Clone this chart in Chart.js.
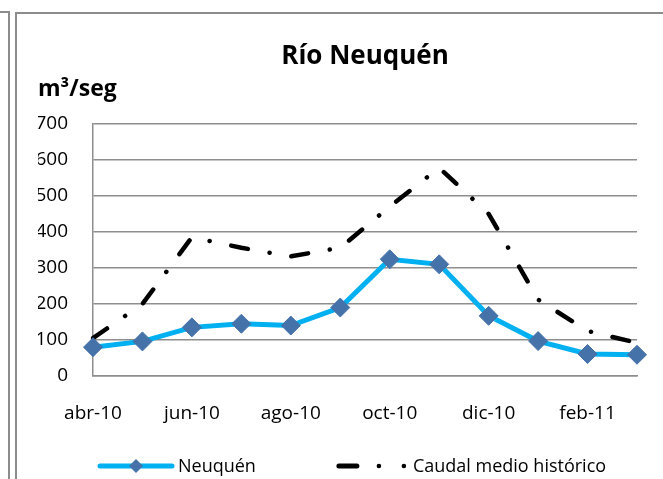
<!DOCTYPE html>
<html>
<head>
<meta charset="utf-8">
<script src="https://cdn.jsdelivr.net/npm/chart.js@4.4.1/dist/chart.umd.min.js"></script>
<style>
  html, body { margin: 0; padding: 0; background: #fff; overflow: hidden; }
  .side { position: absolute; left: 0; top: 11px; width: 8px; height: 480px; border-top: 2px solid #8c8c8c; border-right: 2px solid #8c8c8c; }
  .frame { position: absolute; left: 15px; top: 12px; width: 660px; height: 480px; border-left: 2px solid #8c8c8c; border-top: 2px solid #8c8c8c; }
  #wrap { position: absolute; left: 17px; top: 14px; width: 646px; height: 465px; }
</style>
</head>
<body>
<div class="side"></div>
<div class="frame"></div>
<div id="wrap"><canvas id="chart"></canvas></div>
<script>
// ===== DATA =====
const months = ['abr-10', 'may-10', 'jun-10', 'jul-10', 'ago-10', 'sep-10',
                'oct-10', 'nov-10', 'dic-10', 'ene-11', 'feb-11', 'mar-11'];
const neuquen = [80, 96, 135, 145, 140, 190, 324, 310, 167, 97, 61, 59];
const caudalHist = [105, 200, 385, 356, 332, 356, 470, 578, 450, 212, 125, 92];
const yTicks = [0, 100, 200, 300, 400, 500, 600, 700];

const FONT = "'Open Sans', sans-serif";
const GRID = '#8e8e8e';

// legend drawn by hand: line + marker sample, then text
const legendPlugin = {
  id: 'xlLegend',
  afterDraw(chart) {
    const ctx = chart.ctx;
    const y = 452;
    let x = chart.chartArea.left + 7;
    ctx.save();
    ctx.font = '18px ' + FONT;
    ctx.textBaseline = 'middle';
    // Neuquén
    ctx.strokeStyle = '#00b0f0'; ctx.lineWidth = 5; ctx.lineCap = 'round';
    ctx.beginPath(); ctx.moveTo(x, y); ctx.lineTo(x + 72, y); ctx.stroke();
    ctx.fillStyle = '#4672aa';
    ctx.beginPath();
    ctx.moveTo(x + 36 - 7, y); ctx.lineTo(x + 36, y - 7); ctx.lineTo(x + 36 + 7, y); ctx.lineTo(x + 36, y + 7);
    ctx.closePath(); ctx.fill();
    ctx.fillStyle = '#000';
    ctx.fillText(chart.data.datasets[0].label, x + 78, y + 1);
    x += 78 + ctx.measureText(chart.data.datasets[0].label).width + 81;
    // Caudal medio histórico
    ctx.strokeStyle = '#000'; ctx.lineWidth = 5;
    ctx.beginPath(); ctx.moveTo(x + 2, y); ctx.lineTo(x + 20, y); ctx.stroke();
    ctx.beginPath(); ctx.arc(x + 42, y, 2.3, 0, Math.PI * 2); ctx.fill();
    ctx.beginPath(); ctx.arc(x + 67, y, 2.3, 0, Math.PI * 2); ctx.fill();
    ctx.fillText(chart.data.datasets[1].label, x + 76, y + 1);
    ctx.restore();
  }
};

new Chart(document.getElementById('chart'), {
  type: 'line',
  data: {
    labels: months,
    datasets: [
      {
        label: 'Neuquén', data: neuquen,
        borderColor: '#00b0f0', borderWidth: 5, tension: 0,
        pointStyle: 'rectRot', pointRadius: 9.5, pointBackgroundColor: '#4672aa',
        pointBorderColor: '#4672aa', pointBorderWidth: 1, order: 1
      },
      {
        label: 'Caudal medio histórico', data: caudalHist,
        borderColor: '#000', borderWidth: 4.5, tension: 0,
        borderDash: [17, 22, 0.1, 22], borderCapStyle: 'round',
        pointRadius: 0, order: 2
      }
    ]
  },
  options: {
    responsive: true, maintainAspectRatio: false, animation: false,
    layout: { padding: { left: 21, right: 24, top: 0, bottom: 53 } },
    plugins: {
      legend: { display: false },
      tooltip: { enabled: false },
      title: {
        display: true, text: 'Río Neuquén', color: '#000', fullSize: false,
        font: { family: FONT, size: 26, weight: 'bold' },
        padding: { top: 27, bottom: 3 }
      },
      subtitle: {
        display: true, text: 'm³/seg', color: '#000', align: 'start',
        font: { family: FONT, size: 23, weight: 'bold' },
        padding: { top: 0, bottom: 21 }
      }
    },
    scales: {
      x: {
        offset: false,
        afterFit: s => { s.height = 50; },
        grid: { display: false, drawTicks: false },
        border: { display: true, color: GRID, width: 1.5 },
        ticks: {
          autoSkip: false, maxRotation: 0, padding: 26, color: '#000',
          font: { family: FONT, size: 19 },
          callback: (v, i) => (i % 2 === 0 ? months[i] : '')
        }
      },
      y: {
        min: 0, max: 700,
        afterBuildTicks: s => { s.ticks = yTicks.map(v => ({ value: v })); },
        afterFit: s => { s.width = 55; },
        grid: { color: GRID, lineWidth: 1.5, drawTicks: false },
        border: { display: true, color: GRID, width: 1.5 },
        ticks: { padding: 25, color: '#000', font: { family: FONT, size: 19 } }
      }
    }
  },
  plugins: [legendPlugin]
});
</script>
</body>
</html>
